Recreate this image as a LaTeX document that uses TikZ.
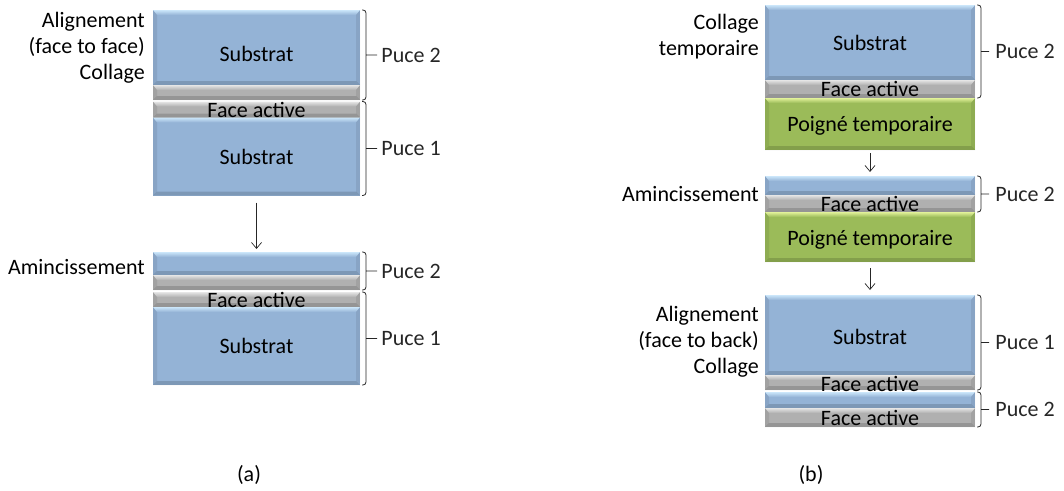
\documentclass[tikz,border=0pt]{standalone}
\usepackage{fontspec}
\setmainfont{Carlito}
\usetikzlibrary{positioning,calc,arrows.meta}

\definecolor{bleu}{HTML}{94B3D6}
\definecolor{bleuclair}{HTML}{CBE6FA}
\definecolor{vert}{HTML}{9BBB59}
\definecolor{vertclair}{HTML}{E2F29A}
\definecolor{gris}{HTML}{B0B0B0}
\definecolor{grisclair}{HTML}{E6E6E6}

\newcommand\taille{\fontsize{22}{26}\selectfont}

% accolade a droite d'un empilement : haut, bas, nom, texte
\newcommand\pointe{10pt}
\newcommand\ecart{4pt}
\newcommand\accolade[4]{%
  \draw[accol] let \p1=([xshift=2pt]#1), \p2=([xshift=2pt]#2) in
    (\x1,\y1) -- (\x1+4pt,\y1) -- (\x1+4pt,\y2) -- (\x1,\y2)
    (\x1+4pt,{(\y1+\y2)/2}) -- (\x1+4pt+\pointe,{(\y1+\y2)/2})
    node[puce, right=\ecart] (#3) {#4};
}

\tikzset{
  couche/.style={rectangle, inner sep=0pt, outer sep=0pt},
  biseau/.style 2 args={fill=#1,
    path picture={
      \coordinate (b-nw) at (path picture bounding box.north west);
      \coordinate (b-ne) at (path picture bounding box.north east);
      \coordinate (b-sw) at (path picture bounding box.south west);
      \coordinate (b-se) at (path picture bounding box.south east);
      \shade[top color=#2, bottom color=#1] (b-nw) -- (b-ne)
        -- ([xshift=-4pt,yshift=-5pt]b-ne) -- ([xshift=4pt,yshift=-5pt]b-nw) -- cycle;
      \fill[black, opacity=.08] (b-nw) -- ([xshift=4pt,yshift=-5pt]b-nw)
        -- ([xshift=4pt,yshift=4pt]b-sw) -- (b-sw) -- cycle;
      \fill[black, opacity=.08] (b-ne) -- ([xshift=-4pt,yshift=-5pt]b-ne)
        -- ([xshift=-4pt,yshift=4pt]b-se) -- (b-se) -- cycle;
      \fill[black, opacity=.15] (b-sw) -- ([xshift=4pt,yshift=4pt]b-sw)
        -- ([xshift=-4pt,yshift=4pt]b-se) -- (b-se) -- cycle;
    }},
  substrat/.style={couche, biseau={bleu}{bleuclair}, minimum height=#1},
  faceactive/.style={couche, biseau={gris}{grisclair}, minimum height=#1},
  poignee/.style={couche, biseau={vert}{vertclair}, minimum height=#1},
  texte/.style={font=\taille, inner sep=0pt},
  etiq/.style={texte, align=right},
  puce/.style={texte},
  accol/.style={line width=.8pt, rounded corners=3pt, black!85},
  fleche/.style={-{Straight Barb[length=6pt,width=10pt]}, line width=.7pt, black!85},
}

\begin{document}
\begin{tikzpicture}[x=1pt, y=-1pt]
  \useasboundingbox (0,0) rectangle (1064,490);

  % (a) face to face
  \begin{scope}[couche/.append style={minimum width=207pt}]
    \node[substrat=75pt] (s2a) at (256.5,47.5) {};
    \node[faceactive=15pt, below=0pt of s2a] (f2a) {};
    \node[faceactive=16pt, below=1.5pt of f2a] (f1a) {};
    \node[substrat=78pt, below=0pt of f1a] (s1a) {};

    \node[substrat=23pt] (t2a) at (256.5,263.5) {};
    \node[faceactive=15pt, below=0pt of t2a] (f2b) {};
    \node[faceactive=15pt, below=2pt of f2b] (f1b) {};
    \node[substrat=78pt, below=0pt of f1b] (s1b) {};
  \end{scope}

  \node[texte] (ts2a) at ([yshift=-6pt]s2a.center) {Substrat};
  \node[texte] (tf1a) at (f1a) {Face active};
  \node[texte] (ts1a) at (s1a) {Substrat};
  \node[texte] (tf1b) at (f1b) {Face active};
  \node[texte] (ts1b) at (s1b) {Substrat};

  \node[etiq, left=8pt of s2a] (al-a) {Alignement\\(face to face)\\Collage};
  \node[etiq, left=8pt of t2a, yshift=-4pt] (am-a) {Amincissement};

  \renewcommand\pointe{11pt}
  \renewcommand\ecart{4pt}
  \accolade{s2a.north east}{f2a.south east}{pa-2}{Puce 2}
  \accolade{f1a.north east}{s1a.south east}{pa-1}{Puce 1}
  \accolade{t2a.north east}{f2b.south east}{pb-2}{Puce 2}
  \accolade{f1b.north east}{s1b.south east}{pb-1}{Puce 1}

  \draw[fleche, shorten <=7pt, shorten >=3pt] (s1a) -- (t2a);

  % (b) face to back avec poignee temporaire
  \begin{scope}[couche/.append style={minimum width=210pt}]
    \node[substrat=75pt] (s2c) at (870,42.5) {};
    \node[faceactive=18pt, below=0pt of s2c] (f2c) {};
    \node[poignee=52pt, below=0pt of f2c] (p1) {};

    \node[substrat=19pt] (t2c) at (870,185.5) {};
    \node[faceactive=17pt, below=0pt of t2c] (f2d) {};
    \node[poignee=50pt, below=0pt of f2d] (p2) {};

    \node[substrat=80pt] (s1c) at (870,335) {};
    \node[faceactive=15pt, below=0pt of s1c] (f1c) {};
    \node[substrat=16pt, below=2pt of f1c] (t2d) {};
    \node[faceactive=19pt, below=0pt of t2d] (f2e) {};
  \end{scope}

  \node[texte] (ts2c) at (s2c) {Substrat};
  \node[texte] (tf2c) at (f2c) {Face active};
  \node[texte] (tp1) at ([yshift=-2pt]p1.center) {Poigné temporaire};
  \node[texte] (tf2d) at (f2d) {Face active};
  \node[texte] (tp2) at ([yshift=-3pt]p2.center) {Poigné temporaire};
  \node[texte] (ts1c) at ([yshift=-2pt]s1c.center) {Substrat};
  \node[texte] (tf1c) at ([yshift=-1.5pt]f1c.center) {Face active};
  \node[texte] (tf2e) at (f2e) {Face active};

  \node[etiq, left=6pt of s2c, yshift=6pt] (co-b) {Collage\\temporaire};
  \node[etiq, left=6pt of t2c, yshift=-9pt] (am-b) {Amincissement};
  \node[etiq, left=6pt of s1c, yshift=-7pt] (al-b) {Alignement\\(face to back)\\Collage};

  \renewcommand\pointe{8pt}
  \renewcommand\ecart{6pt}
  \accolade{s2c.north east}{f2c.south east}{pc-2}{Puce 2}
  \accolade{t2c.north east}{f2d.south east}{pd-2}{Puce 2}
  \accolade{s1c.north east}{f1c.south east}{pe-1}{Puce 1}
  \accolade{t2d.north east}{f2e.south east}{pe-2}{Puce 2}

  \draw[fleche, shorten <=3pt, shorten >=4pt] (p1) -- (t2c);
  \draw[fleche, shorten <=6pt, shorten >=5pt] (p2) -- (s1c);

  \node[texte] (leg-a) at (249,475) {(a)};
  \node[texte] (leg-b) at (811,475) {(b)};
\end{tikzpicture}
\end{document}
